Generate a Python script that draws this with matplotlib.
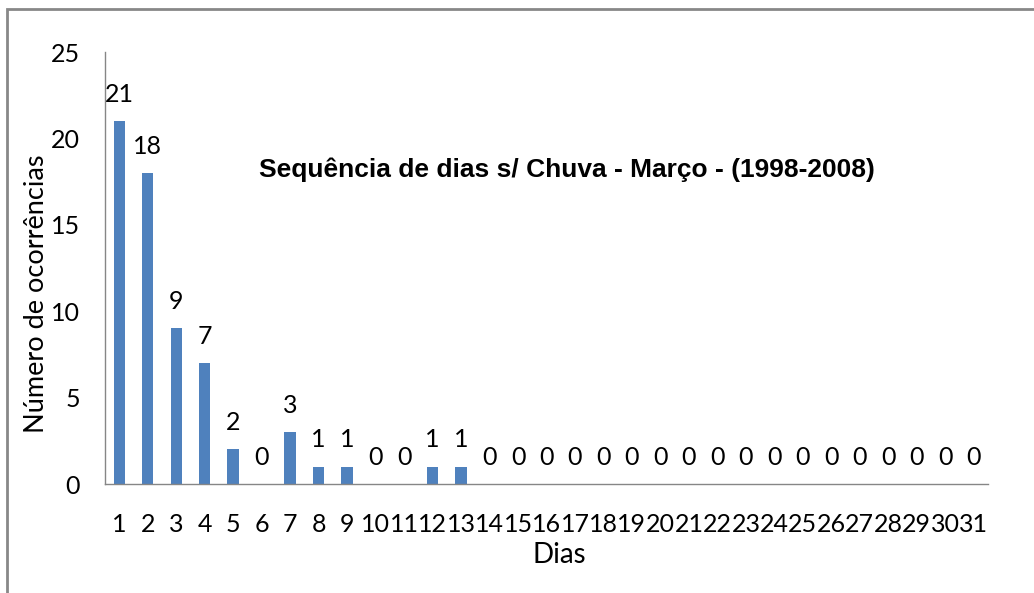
import numpy as np
import matplotlib.pyplot as plt
from matplotlib.patches import Rectangle

dias = [str(d) for d in range(1, 32)]
ocorrencias = [21, 18, 9, 7, 2, 0, 3, 1, 1, 0, 0, 1, 1] + [0] * 18
y_ticks = [0, 5, 10, 15, 20, 25]

fig = plt.figure(figsize=(10.34, 5.93), dpi=100)
ax = fig.add_axes([105 / 1034, 1 - 484 / 593, (988 - 105) / 1034, (484 - 52) / 593])

x = np.arange(len(dias))
bars = ax.bar(x, ocorrencias, width=0.4, color="#4F81BD")
for xi, v in zip(x, ocorrencias):
    ax.annotate(str(v), (xi, v), xytext=(0, 11), textcoords="offset points",
                ha="center", va="bottom", fontsize=18, family="Lato")

ax.set_xlim(-0.5, len(dias) - 0.5)
ax.set_ylim(0, 25)
ax.set_yticks(y_ticks)
ax.set_xticks(x)
ax.set_xticklabels(dias, family="Lato", fontsize=18)
ax.set_yticklabels([str(t) for t in y_ticks], family="Lato", fontsize=18)
ax.tick_params(axis="x", length=0, pad=21)
ax.tick_params(axis="y", length=0, pad=18)

for s in ["top", "right"]:
    ax.spines[s].set_visible(False)
for s in ["left", "bottom"]:
    ax.spines[s].set_color("#868686")
    ax.spines[s].set_linewidth(1)

ax.set_xlabel("Dias", family="Lato", fontsize=20)
ax.xaxis.set_label_coords(0.515, (484 - 555) / 432)
ax.set_ylabel("Número de ocorrências", family="Lato", fontsize=19.5)
ax.yaxis.set_label_coords((37 - 105) / 883, (484 - 294) / 432)
ax.xaxis.label.set_va("center")
ax.yaxis.label.set_va("center")
ax.text(0.523, 0.727, "Sequência de dias s/ Chuva - Março - (1998-2008)",
        transform=ax.transAxes, ha="center", va="center",
        fontsize=19, fontweight="bold", family="Liberation Sans")

fig.add_artist(Rectangle((7 / 1034, -0.1), 1.2, 1.1 - 9 / 593, transform=fig.transFigure,
                         fill=False, edgecolor="#888888", linewidth=2))

fig.savefig("out.png", dpi=100)
